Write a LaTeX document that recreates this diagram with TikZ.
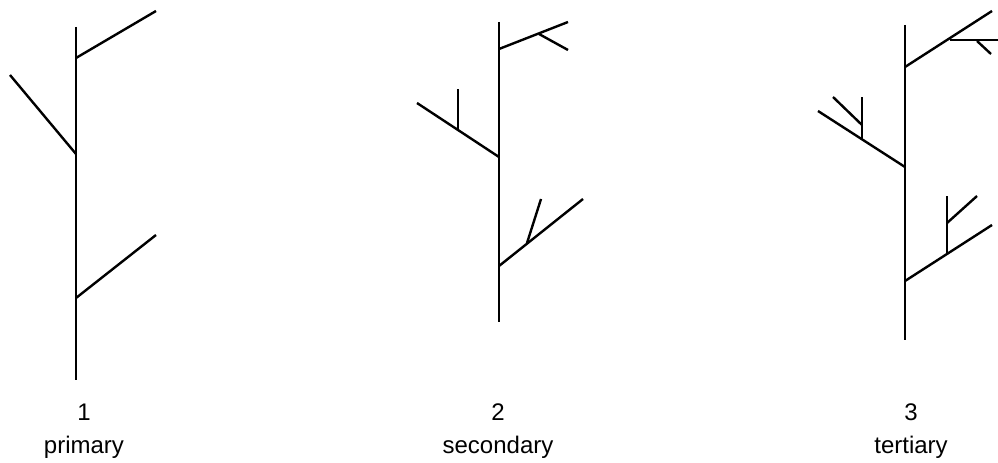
\documentclass[tikz,border=0pt]{standalone}
\usepackage{fontspec}
\setmainfont{Liberation Sans}
\begin{document}
\begin{tikzpicture}[x=0.75pt,y=-0.75pt,
  trunk/.style={line width=2.2pt},
  branch/.style={line width=1.8pt},
  lbl/.style={anchor=base,inner sep=0pt,font=\fontsize{18}{20}\selectfont}]
\useasboundingbox (0,0) rectangle (998,463);
% ---------- tree 1 ----------
\coordinate (t1a) at (76,27);
\coordinate (t1b) at (76,380);
\coordinate (b1a) at (76,58);  \coordinate (e1a) at (156,11);
\coordinate (b1b) at (76,154); \coordinate (e1b) at (10,75);
\coordinate (b1c) at (76,298); \coordinate (e1c) at (156,235);
\draw[trunk] (t1a) -- (t1b);
\draw[branch] (b1a) -- (e1a);
\draw[branch] (b1b) -- (e1b);
\draw[branch] (b1c) -- (e1c);
% ---------- tree 2 ----------
\coordinate (t2a) at (499,22);
\coordinate (t2b) at (499,322);
\coordinate (b2a) at (499,49);  \coordinate (e2a) at (568,22);
\coordinate (s2a) at (539,34);  \coordinate (f2a) at (568,50);
\coordinate (b2b) at (499,157); \coordinate (e2b) at (417,103);
\coordinate (s2b) at (458,130); \coordinate (f2b) at (458,89);
\coordinate (b2c) at (499,266); \coordinate (e2c) at (583,199);
\coordinate (s2c) at (527,243); \coordinate (f2c) at (541,199);
\draw[trunk] (t2a) -- (t2b);
\draw[branch] (b2a) -- (e2a);
\draw[branch] (s2a) -- (f2a);
\draw[branch] (b2b) -- (e2b);
\draw[branch] (s2b) -- (f2b);
\draw[branch] (b2c) -- (e2c);
\draw[branch] (s2c) -- (f2c);
% ---------- tree 3 ----------
\coordinate (t3a) at (905,25);
\coordinate (t3b) at (905,340);
\coordinate (b3a) at (905,67);  \coordinate (e3a) at (992,11);
\coordinate (s3a) at (950,40);  \coordinate (f3a) at (998,40);
\coordinate (u3a) at (977,41);  \coordinate (g3a) at (991,54);
\coordinate (b3b) at (905,167); \coordinate (e3b) at (818,111);
\coordinate (s3b) at (862,139); \coordinate (f3b) at (862,97);
\coordinate (u3b) at (862,125); \coordinate (g3b) at (833,97);
\coordinate (b3c) at (905,281); \coordinate (e3c) at (992,225);
\coordinate (s3c) at (947,254); \coordinate (f3c) at (947,196);
\coordinate (u3c) at (947,223); \coordinate (g3c) at (977,196);
\draw[trunk] (t3a) -- (t3b);
\draw[branch] (b3a) -- (e3a);
\draw[branch] (s3a) -- (f3a);
\draw[branch] (u3a) -- (g3a);
\draw[branch] (b3b) -- (e3b);
\draw[branch] (s3b) -- (f3b);
\draw[branch] (u3b) -- (g3b);
\draw[branch] (b3c) -- (e3c);
\draw[branch] (s3c) -- (f3c);
\draw[branch] (u3c) -- (g3c);
% ---------- labels ----------
\node[lbl] (n1) at (84,420) {1};
\node[lbl] (l1) at (84,453) {primary};
\node[lbl] (n2) at (498,420) {2};
\node[lbl] (l2) at (498,453) {secondary};
\node[lbl] (n3) at (911,420) {3};
\node[lbl] (l3) at (911,453) {tertiary};
\end{tikzpicture}
\end{document}
